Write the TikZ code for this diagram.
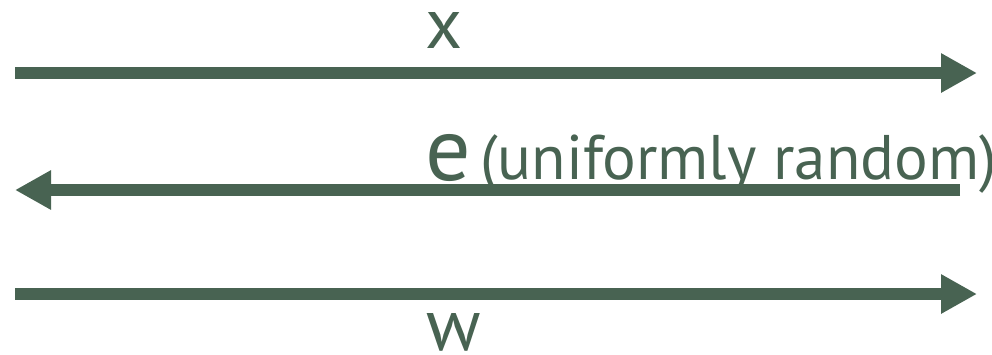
\documentclass[tikz,border=0pt]{standalone}
\usepackage{fontspec}
\setmainfont{PT Sans}
\usetikzlibrary{arrows.meta}
\definecolor{ink}{HTML}{486352}
\tikzset{
  flow/.style={draw=ink, line width=12pt, -{Triangle[length=36pt,width=37pt]}},
  lbl/.style={text=ink, inner sep=0pt, anchor=base west},
}
\begin{document}
\begin{tikzpicture}[x=1pt,y=-1pt]
  \useasboundingbox (0,0) rectangle (992,354);
  % end points of the three message arrows
  \coordinate (xs) at (15,73);
  \coordinate (xe) at (977,73);
  \coordinate (es) at (960,190);
  \coordinate (ee) at (15,190);
  \coordinate (ws) at (15,294);
  \coordinate (we) at (977,294);
  \draw[flow] (xs) -- (xe);
  \draw[flow] (es) -- (ee);
  \draw[flow] (ws) -- (we);
  % labels
  \node[lbl, font=\fontsize{72}{80}\selectfont] (xl) at (425,48) {x};
  \node[lbl, font=\fontsize{90}{100}\selectfont] (el) at (425,180) {e};
  \node[lbl, font=\fontsize{63}{70}\selectfont] (rl) at (480,179) {(uniformly random)};
  \node[lbl, font=\fontsize{74}{80}\selectfont] (wl) at (426,350) {w};
\end{tikzpicture}
\end{document}
